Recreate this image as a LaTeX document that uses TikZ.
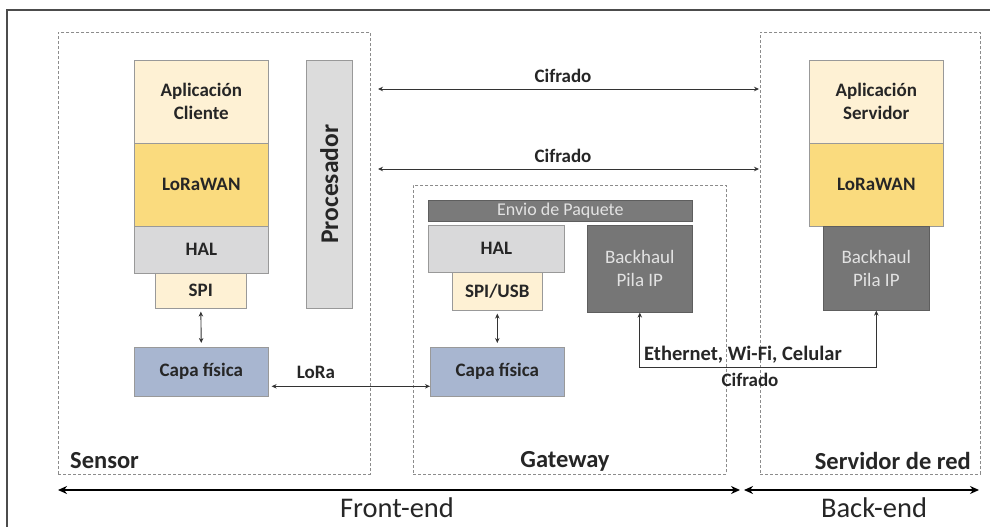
\documentclass[tikz,border=0pt]{standalone}
\usepackage{fontspec}
\setmainfont{Carlito}
\usetikzlibrary{arrows.meta}
\definecolor{cream}{HTML}{FEF1D4}
\definecolor{gold}{HTML}{FADB7E}
\definecolor{halgray}{HTML}{D9D9DA}
\definecolor{capblue}{HTML}{A8B6D0}
\definecolor{procgray}{HTML}{DCDCDC}
\definecolor{darkbox}{HTML}{767676}
\definecolor{lighttxt}{HTML}{E2E2E2}
\newcommand\lblfont{\fontsize{19}{21}\selectfont\bfseries}
\newcommand\bigfont{\fontsize{24.5}{26}\selectfont\bfseries}
\begin{document}
\begin{tikzpicture}[x=1pt,y=-1pt,
  layer/.style={draw=black!40, line width=0.6pt, inner sep=0pt, align=center,
    anchor=north west, font=\lblfont, text=black!85},
  darklayer/.style={layer, fill=darkbox, draw=darkbox!80!black, text=lighttxt,
    font=\fontsize{19}{23}\selectfont},
  container/.style={draw=black!45, dashed, dash pattern=on 3pt off 2pt,
    line width=0.5pt, inner sep=0pt, anchor=north west},
  arr/.style={line width=0.9pt, draw=black!80, {Stealth[length=5pt,width=4.5pt]}-{Stealth[length=5pt,width=4.5pt]}},
  thickarr/.style={line width=2pt, draw=black, {Stealth[length=9pt,width=8pt]}-{Stealth[length=9pt,width=8pt]}},
  lbl/.style={font=\lblfont, text=black!85, inner sep=1pt},
  grouplbl/.style={font=\bigfont, text=black!85, inner sep=0pt},
  endlbl/.style={font=\fontsize{28.5}{30}\selectfont, text=black!85, inner sep=0pt}
]
\useasboundingbox (0,0) rectangle (990,527);
\fill[white] (0,0) rectangle (990,527);
\draw[black!70, line width=1.2pt] (7,527) -- (7,10) -- (990,10);

% containers
\node[container, minimum width=312pt, minimum height=442pt] (sensor) at (58,32) {};
\node[container, minimum width=313pt, minimum height=289pt] (gateway) at (413,185) {};
\node[container, minimum width=220pt, minimum height=442pt] (server) at (760,32) {};

\node[grouplbl, anchor=west] (sensorlbl) at (70,461) {Sensor};
\node[grouplbl] (gatewaylbl) at (565,461) {Gateway};
\node[grouplbl, anchor=east] (serverlbl) at (971,461) {Servidor de red};

% sensor stack
\node[layer, fill=cream, minimum width=134pt, minimum height=83pt] (appC) at (134,60) {Aplicación\\[2pt]Cliente};
\node[layer, fill=gold, minimum width=134pt, minimum height=83pt] (lwS) at (134,143) {LoRaWAN};
\node[layer, fill=halgray, minimum width=134pt, minimum height=47pt] (halS) at (134,226) {HAL};
\node[layer, fill=cream, minimum width=91pt, minimum height=35pt] (spiS) at (155,273) {SPI};
\node[layer, fill=capblue, minimum width=134pt, minimum height=49pt] (capS) at (134,347) {Capa física};
\node[layer, fill=procgray, minimum width=46pt, minimum height=248pt] (proc) at (306,60) {};
\node[font=\fontsize{25.5}{27}\selectfont\bfseries, text=black!85, rotate=90, inner sep=0pt] (proclbl) at (proc.center) {Procesador};

% gateway stack
\node[darklayer, fill=black!52, minimum width=264pt, minimum height=21pt, font=\fontsize{18}{19}\selectfont] (env) at (428,200) {Envio de Paquete};
\node[layer, fill=halgray, minimum width=136pt, minimum height=47pt] (halG) at (428,225) {HAL};
\node[layer, fill=cream, minimum width=90pt, minimum height=38pt] (spiG) at (452,272) {SPI/USB};
\node[darklayer, minimum width=105pt, minimum height=87pt] (bhG) at (587,225) {Backhaul\\Pila IP};
\node[layer, fill=capblue, minimum width=134pt, minimum height=49pt] (capG) at (430,347) {Capa física};

% server stack
\node[layer, fill=cream, minimum width=134pt, minimum height=83pt] (appS) at (809,60) {Aplicación\\[2pt]Servidor};
\node[layer, fill=gold, minimum width=134pt, minimum height=83pt] (lwR) at (809,143) {LoRaWAN};
\node[darklayer, minimum width=106pt, minimum height=84pt] (bhS) at (823,226) {Backhaul\\Pila IP};

% cifrado arrows
\coordinate (c1a) at (378,89);
\coordinate (c1b) at (759,89);
\coordinate (c2a) at (378,169);
\coordinate (c2b) at (759,169);
\draw[arr] (c1a) -- (c1b);
\draw[arr] (c2a) -- (c2b);
\node[lbl] (cif1) at (563,76) {Cifrado};
\node[lbl] (cif2) at (563,156) {Cifrado};

% vertical links
\draw[arr, shorten <=3pt, shorten >=4pt] (spiS.south) -- (capS.north);
\draw[arr, shorten <=3pt, shorten >=4pt] (spiG.south) -- (capG.north);

% LoRa link
\draw[arr] ([shift={(3pt,-14.5pt)}]capS.east) -- ([yshift=-14.5pt]capG.west);
\node[lbl] (loralbl) at (316,372) {LoRa};

% backhaul link
\draw[arr] (bhG.south) -- ++(0,55) coordinate (bend) -| (bhS.south);
\node[lbl, font=\fontsize{20.5}{22}\selectfont\bfseries] (ethlbl) at (743,355) {Ethernet, Wi-Fi, Celular};
\node[lbl] (cif3) at (750,380) {Cifrado};

% front/back end
\coordinate (fe1) at (58,490);
\coordinate (fe2) at (740,490);
\coordinate (be1) at (744,490);
\coordinate (be2) at (979,490);
\draw[thickarr] (fe1) -- (fe2);
\draw[thickarr] (be1) -- (be2);
\node[endlbl] (felbl) at (397,508) {Front-end};
\node[endlbl] (belbl) at (874,508) {Back-end};
\end{tikzpicture}
\end{document}
